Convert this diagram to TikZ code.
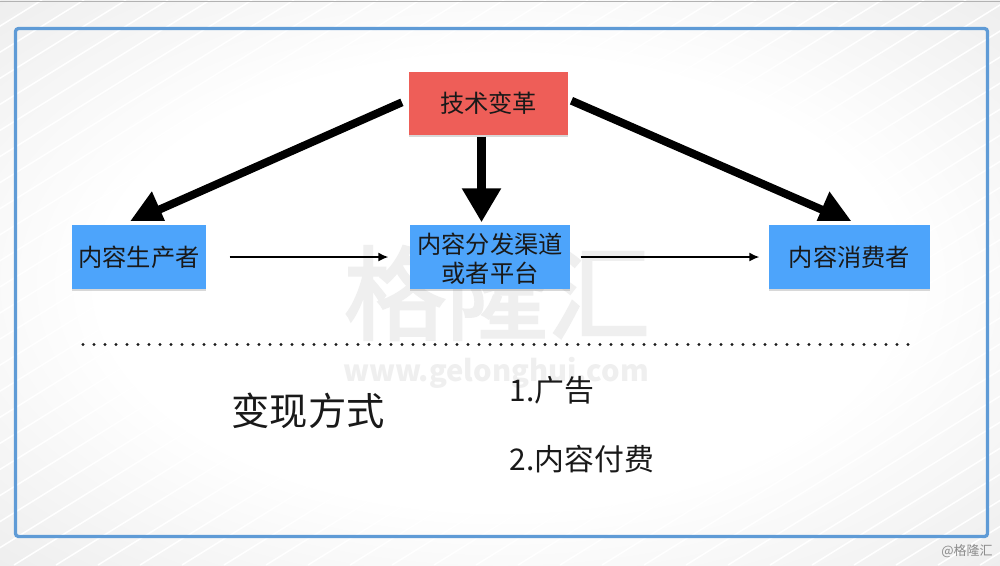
\documentclass[tikz,border=0pt]{standalone}
\usepackage{fontspec}
\setmainfont{Noto Sans CJK SC}
\newfontfamily\markfont[FakeBold=2.5]{Noto Sans CJK SC}
\usetikzlibrary{arrows.meta}
\usetikzlibrary{shadows}
\tikzset{>=latex}
\definecolor{bgedge}{HTML}{DEDEDE}
\definecolor{bgcorner}{HTML}{C6C6C6}
\definecolor{framecol}{HTML}{5F9BD6}
\definecolor{redcol}{HTML}{EE5E58}
\definecolor{bluecol}{HTML}{4DA4FB}
\definecolor{markcol}{HTML}{EFEFEF}
\pgfdeclareradialshading{slidebg}{\pgfpoint{0bp}{0bp}}{color(0bp)=(white);color(20bp)=(white);color(50bp)=(bgedge);color(71bp)=(bgcorner)}
\tikzset{box/.style = {shape=rectangle,fill=bluecol,minimum height=0.64cm,inner sep=0pt,align=center,text=black!90,
        font=\fontsize{6.9}{8.25}\selectfont,drop shadow={shadow xshift=0.1pt,shadow yshift=-0.5pt,opacity=0.3}}}
\tikzset{bigarrow/.style = {line width=0.08cm,-{Triangle[length=0.34cm,width=0.37cm]}}}
\tikzset{thinarrow/.style = {line width=0.015cm,-{Latex[length=0.1cm,width=0.09cm]}}}
\tikzset{sidetext/.style = {anchor=west,inner sep=0pt,text=black!90,font=\fontsize{8.5}{10}\selectfont}}
\begin{document}
\begin{tikzpicture}
                \useasboundingbox (0,0) rectangle (10,-5.65);
                \shade[shading=slidebg] (0,0) rectangle (10,-5.65);
                \begin{scope}
                    \clip (0,0) rectangle (10,-5.65);
                    \foreach \i in {0,...,46}
                        \draw[white,line width=0.015cm] (-9.1+0.42*\i,-5.65) -- ++(9.1,5.65);
                \end{scope}
                \draw[black!30,line width=0.012cm] (0,-0.015) -- (10,-0.015);
                \draw[framecol,line width=0.033cm,rounded corners=0.03cm] (0.155,-0.285) rectangle (9.875,-5.365);

                \node[text=markcol,font=\fontsize{29}{29}\markfont] (mark) at (4.97,-2.93) {格隆汇};
                \node[text=markcol,font=\fontsize{8.3}{9}\bfseries\selectfont] (site) at (4.96,-3.73) {www.gelonghui.com};

                \node[box,fill=redcol,minimum width=1.59cm,minimum height=0.63cm] (tech) at (4.885,-1.035) {技术变革};
                \node[box,minimum width=1.34cm] (maker) at (1.39,-2.57) {内容生产者};
                \node[box,minimum width=1.6cm] (channel) at (4.9,-2.57) {\rule{0pt}{6.6pt}内容分发渠道\\或者平台};
                \node[box,minimum width=1.61cm] (user) at (8.495,-2.57) {内容消费者};

                \begin{scope}
                    \clip (0,0) rectangle (10,-2.2);
                    \draw[bigarrow,shorten <=0.07cm,shorten >=0.03cm] ([yshift=0.04cm]tech.west) -- ([xshift=-0.13cm]maker.north);
                    \draw[bigarrow,shorten <=0.03cm,shorten >=0.03cm] ([yshift=0.04cm]tech.east) -- ([xshift=0.06cm]user.north);
                \end{scope}
                \draw[bigarrow,line width=0.09cm,shorten <=0.01cm,shorten >=0.02cm] ([xshift=-0.07cm]tech.south) -- ([xshift=-0.085cm]channel.north);
                \draw[thinarrow,shorten <=0.23cm,shorten >=0.21cm] (maker) -- (channel);
                \draw[thinarrow,shorten <=0.1cm,shorten >=0.09cm] (channel) -- (user);

                \coordinate (dotl) at (0.83,-3.445);
                \coordinate (dotr) at (9.13,-3.445);
                \draw[black!90,line width=0.032cm,line cap=round,dash pattern=on 0cm off 0.11cm] (dotl) -- (dotr);

                \node[text=black!90,font=\fontsize{10.9}{12}\selectfont] (way) at (3.08,-4.11) {变现方式};
                \node[sidetext] (adv) at (5.09,-3.9) {1.广告};
                \node[sidetext] (paid) at (5.09,-4.59) {2.内容付费};
                \node[text=black!45,font=\fontsize{3.7}{4}\selectfont] (credit) at (9.67,-5.51) {@格隆汇};
            \end{tikzpicture}
\end{document}
